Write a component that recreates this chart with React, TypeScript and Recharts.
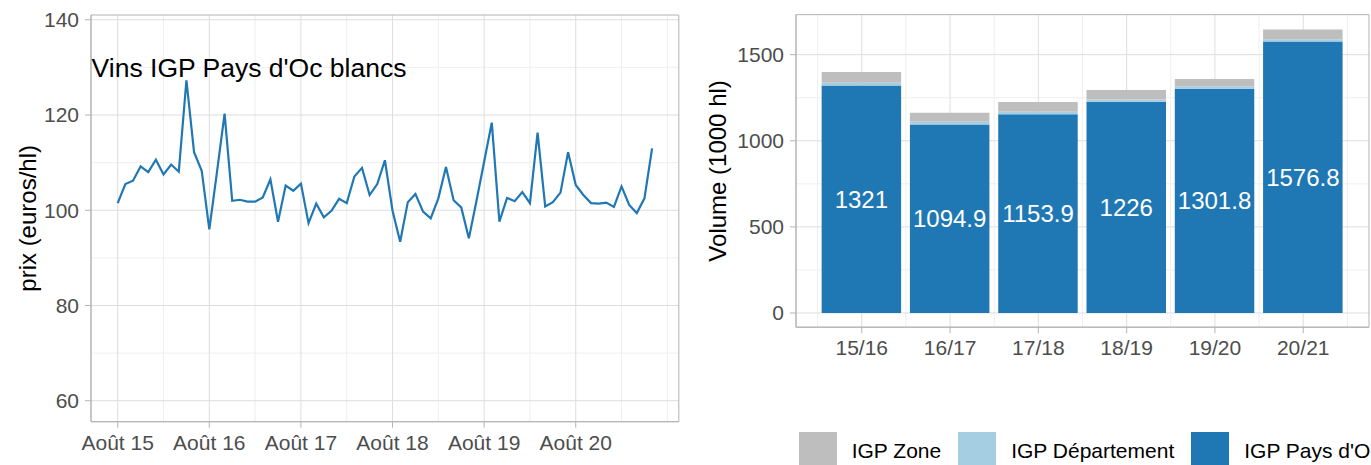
import React from 'react';
import {
  LineChart, Line, BarChart, Bar, XAxis, YAxis, CartesianGrid,
  ReferenceArea, ReferenceDot, LabelList, Legend,
} from 'recharts';

// ---- Left chart: monthly price (euros/hl), Août 2015 -> Juin 2021 ----
const prices = [
  101.5, 105.5, 106.2, 109.2, 108.0, 110.6, 107.5, 109.6, 108.1, 127.3, 112.2, 108.3,
  96.0, 108.0, 120.3, 102.0, 102.2, 101.8, 101.8, 102.7, 106.5, 97.6, 105.2, 104.1,
  105.6, 97.3, 101.4, 98.5, 99.9, 102.4, 101.5, 107.1, 108.9, 103.2, 105.5, 110.5,
  99.9, 93.4, 101.7, 103.4, 99.7, 98.3, 102.5, 109.1, 102.1, 100.6, 94.1, 102.0,
  110.2, 118.4, 97.6, 102.6, 101.9, 103.8, 101.5, 116.3, 100.8, 101.7, 103.7, 112.2,
  105.3, 103.2, 101.5, 101.4, 101.6, 100.7, 105.0, 101.1, 99.4, 102.5, 113.0,
];
const priceTickMonths = [0, 12, 24, 36, 48, 60];
const priceTickLabels = ['Août 15', 'Août 16', 'Août 17', 'Août 18', 'Août 19', 'Août 20'];
const priceMinorMonths = [6, 18, 30, 42, 54, 66, 72];
const priceMajorY = [60, 80, 100, 120, 140];
const priceMinorY = [70, 90, 110, 130];
const priceXDomain = [-3.5, 73.5];
const priceYDomain = [55.6, 141];
const priceTitle = "Vins IGP Pays d'Oc blancs";
const priceTitleX = 17.2;
const priceTitleY = 130;

// ---- Right chart: volumes (1000 hl) per campaign ----
const seasons = ['15/16', '16/17', '17/18', '18/19', '19/20', '20/21'];
const seasonPos = [1, 2, 3, 4, 5, 6];
const paysOc = [1321, 1094.9, 1153.9, 1226, 1301.8, 1576.8];
const departement = [16, 15, 15, 14, 15, 13];
const zone = [63, 53, 56, 55, 42, 57];
const volMajorY = [0, 500, 1000, 1500];
const volMinorY = [250, 750, 1250];
const volMinorX = [0.5, 1.5, 2.5, 3.5, 4.5, 5.5, 6.5];
const volXDomain = [0.255, 6.745];
const volYDomain = [-82.5, 1732.5];

const legendItems = [
  { name: 'IGP Zone', color: '#BEBEBE' },
  { name: 'IGP Département', color: '#A6CEE3' },
  { name: "IGP Pays d'Oc", color: '#1F78B4' },
];

const priceData = prices.map((p, i) => ({ m: i, price: p }));
const volData = seasons.map((s, i) => ({
  pos: seasonPos[i], season: s, paysOc: paysOc[i], departement: departement[i], zone: zone[i],
}));

const FONT = "'Liberation Sans', Arial, Helvetica, sans-serif";
const TICK = { fontSize: 21, fill: '#4D4D4D' };
const BORDER = '#B3B3B3';
const MAJOR = '#DEDEDE';
const MINOR = '#EFEFEF';

const renderLegend = () => (
  <div style={{ display: 'flex', alignItems: 'flex-start', whiteSpace: 'nowrap', fontFamily: FONT }}>
    {legendItems.map((it, i) => (
      <div key={it.name} style={{ display: 'flex', alignItems: 'flex-start', marginRight: i < legendItems.length - 1 ? 17 : 0 }}>
        <div style={{ width: 38, height: 38, background: it.color }} />
        <span style={{ marginLeft: 15, fontSize: 21, lineHeight: '38px', color: '#000' }}>{it.name}</span>
      </div>
    ))}
  </div>
);

export default function App() {
  return (
    <div style={{ position: 'absolute', left: 0, top: 0, width: 1371, height: 465, overflow: 'hidden', background: '#fff', fontFamily: FONT }}>
      <div style={{ position: 'absolute', left: 0, top: 0 }}>
        <LineChart width={690} height={465} data={priceData} margin={{ top: 15, right: 11.2, bottom: 13.3, left: 0 }}>
          <CartesianGrid stroke={MINOR} strokeWidth={1} verticalValues={priceMinorMonths} horizontalValues={priceMinorY} />
          <CartesianGrid stroke={MAJOR} strokeWidth={1} verticalValues={priceTickMonths} horizontalValues={priceMajorY} />
          <XAxis
            dataKey="m" type="number" domain={priceXDomain} ticks={priceTickMonths} interval={0}
            tickFormatter={(v: number) => priceTickLabels[priceTickMonths.indexOf(v)]}
            height={30} tickSize={6} tickMargin={7.3} tick={TICK}
            tickLine={{ stroke: BORDER }} axisLine={{ stroke: BORDER }}
          />
          <YAxis
            type="number" domain={priceYDomain} ticks={priceMajorY} interval={0} allowDataOverflow
            width={91} tickSize={6} tickMargin={6} tick={TICK}
            tickLine={{ stroke: BORDER }} axisLine={{ stroke: BORDER }}
            label={{ value: 'prix (euros/hl)', angle: -90, position: 'center', dx: -18, fontSize: 24, fill: '#000' }}
          />
          <ReferenceArea x1={priceXDomain[0]} x2={priceXDomain[1]} y1={priceYDomain[0]} y2={priceYDomain[1]}
            fill="none" stroke={BORDER} strokeWidth={1} ifOverflow="visible" />
          <Line type="linear" dataKey="price" stroke="#1F78B4" strokeWidth={2.2} dot={false} isAnimationActive={false} />
          <ReferenceDot x={priceTitleX} y={priceTitleY} r={0} fill="none" stroke="none"
            label={{ value: priceTitle, position: 'center', fontSize: 26.5, fill: '#000' }} />
        </LineChart>
      </div>
      <div style={{ position: 'absolute', left: 690, top: 0 }}>
        <BarChart width={681} height={465} data={volData} barSize={79.5}
          margin={{ top: 14.65, right: 2, bottom: 107.8, left: 0 }}>
          <CartesianGrid stroke={MINOR} strokeWidth={1} verticalValues={volMinorX} horizontalValues={volMinorY} />
          <CartesianGrid stroke={MAJOR} strokeWidth={1} verticalValues={seasonPos} horizontalValues={volMajorY} />
          <XAxis
            dataKey="pos" type="number" domain={volXDomain} ticks={seasonPos} interval={0} allowDataOverflow
            tickFormatter={(v: number) => seasons[seasonPos.indexOf(v)]}
            height={30} tickSize={6} tickMargin={7.3} tick={TICK}
            tickLine={{ stroke: BORDER }} axisLine={{ stroke: BORDER }}
          />
          <YAxis
            type="number" domain={volYDomain} ticks={volMajorY} interval={0} allowDataOverflow
            width={106} tickSize={6} tickMargin={6} tick={TICK}
            tickLine={{ stroke: BORDER }} axisLine={{ stroke: BORDER }}
            label={{ value: 'Volume (1000 hl)', angle: -90, position: 'center', dx: -26, fontSize: 24, fill: '#000' }}
          />
          <Bar dataKey="paysOc" stackId="a" fill="#1F78B4" isAnimationActive={false}>
            <LabelList dataKey="paysOc" position="center" fill="#FFFFFF" fontSize={24} />
          </Bar>
          <Bar dataKey="departement" stackId="a" fill="#A6CEE3" isAnimationActive={false} />
          <Bar dataKey="zone" stackId="a" fill="#BEBEBE" isAnimationActive={false} />
          <ReferenceArea x1={volXDomain[0]} x2={volXDomain[1]} y1={volYDomain[0]} y2={volYDomain[1]}
            fill="none" stroke={BORDER} strokeWidth={1} ifOverflow="visible" />
          <Legend layout="horizontal" verticalAlign="middle" align="center" content={renderLegend}
            wrapperStyle={{ top: 432, left: 108.7, width: 700 }} />
        </BarChart>
      </div>
    </div>
  );
}
